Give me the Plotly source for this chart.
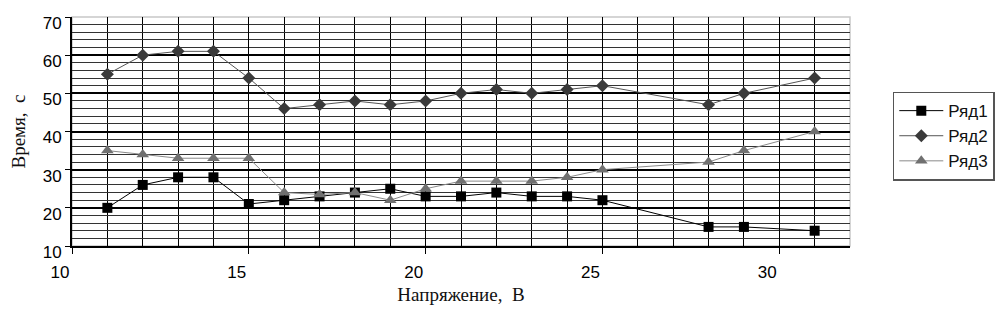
import plotly.graph_objects as go

# Data
voltage = [11, 12, 13, 14, 15, 16, 17, 18, 19, 20, 21, 22, 23, 24, 25, 28, 29, 31]
series1 = [20, 26, 28, 28, 21, 22, 23, 24, 25, 23, 23, 24, 23, 23, 22, 15, 15, 14]
series2 = [55, 60, 61, 61, 54, 46, 47, 48, 47, 48, 50, 51, 50, 51, 52, 47, 50, 54]
series3 = [35, 34, 33, 33, 33, 24, 23.5, 24, 22, 25, 27, 27, 27, 28, 30, 32, 35, 40]
names = ["Ряд1", "Ряд2", "Ряд3"]
x_ticks = [10, 15, 20, 25, 30]
y_ticks = [10, 20, 30, 40, 50, 60, 70]

fig = go.Figure()
fig.add_trace(go.Scatter(
    x=voltage, y=series1, name=names[0], mode="lines+markers",
    line=dict(color="#000000", width=1),
    marker=dict(symbol="square", size=10, color="#000000"),
))
fig.add_trace(go.Scatter(
    x=voltage, y=series2, name=names[1], mode="lines+markers",
    line=dict(color="#555555", width=1),
    marker=dict(symbol="diamond", size=10, color="#3a3a3a"),
))
fig.add_trace(go.Scatter(
    x=voltage, y=series3, name=names[2], mode="lines+markers",
    line=dict(color="#8a8a8a", width=1),
    marker=dict(symbol="triangle-up", size=11, color="#707070"),
))

tick_font = dict(family="Liberation Sans, Arial, sans-serif", size=17, color="#000000")
title_font = dict(family="Liberation Serif, Times New Roman, serif", size=19, color="#111111")

# page body has an 8px margin, so the figure is sized/offset to compensate
fig.update_layout(
    width=995, height=305,
    margin=dict(l=64, r=153, t=9, b=67, autoexpand=False),
    paper_bgcolor="white", plot_bgcolor="white",
    showlegend=True,
    legend=dict(
        x=1.055, y=0.48, xanchor="left", yanchor="middle",
        bordercolor="#555555", borderwidth=1.5,
        font=dict(family="Liberation Sans, Arial, sans-serif", size=17, color="#111111"),
        tracegroupgap=0, itemwidth=44,
    ),
    shapes=[dict(type="rect", xref="paper", yref="paper", x0=0, x1=1, y0=0, y1=1,
                 line=dict(color="#c8c8c8", width=1.5), layer="below")],
)

fig.update_xaxes(
    range=[10, 32], automargin=False,
    tickmode="array", tickvals=x_ticks, ticktext=[str(v) for v in x_ticks],
    showgrid=True, gridcolor="#000000", gridwidth=1.3,
    minor=dict(dtick=1, tick0=10, showgrid=True, gridcolor="#000000", gridwidth=1.3),
    showline=True, linecolor="#000000", linewidth=2,
    ticks="outside", ticklen=6, tickcolor="#000000",
    tickfont=tick_font, ticklabelshift=-12, ticklabelstandoff=4,
    zeroline=False,
    title=dict(text="Напряжение,  В", font=title_font, standoff=6),
)
fig.update_yaxes(
    range=[10, 70], automargin=False,
    tickmode="array", tickvals=y_ticks, ticktext=[str(v) for v in y_ticks],
    showgrid=True, gridcolor="#000000", gridwidth=2,
    minor=dict(dtick=2, tick0=10, showgrid=True, gridcolor="#333333", gridwidth=1),
    showline=True, linecolor="#000000", linewidth=2,
    ticks="outside", ticklen=5, tickcolor="#000000",
    tickfont=tick_font, ticklabelshift=6,
    zeroline=False,
    title=dict(text="Время,  с", font=title_font, standoff=12),
)

fig.write_html("out.html")
